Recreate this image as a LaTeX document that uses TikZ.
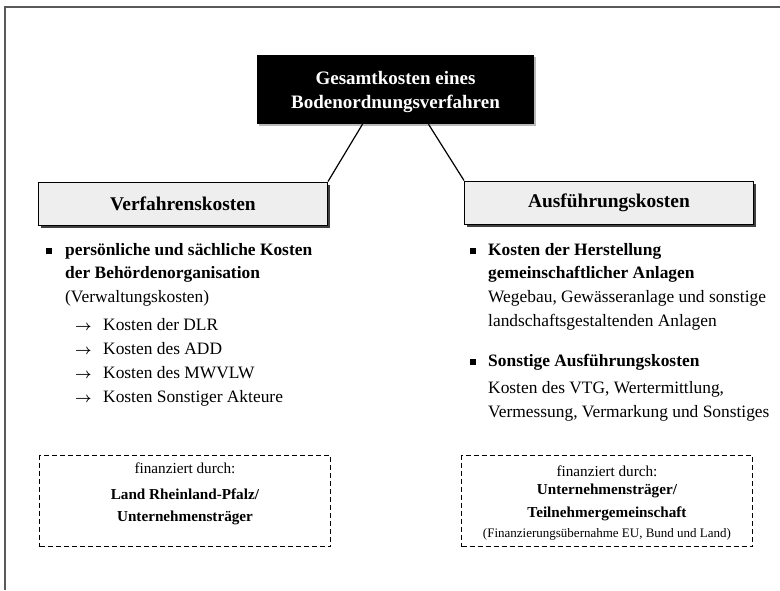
\documentclass[tikz,border=0pt]{standalone}
\usepackage{fontspec}
\setmainfont{Liberation Serif}
\usetikzlibrary{positioning,shadows}
\newcommand{\bodysize}{\fontsize{17.4}{23.5}\selectfont}
\newcommand{\finsize}{\fontsize{15.2}{22}\selectfont}

\begin{document}
\begin{tikzpicture}[x=1pt,y=-1pt,
  titlebox/.style={fill=black,text=white,align=center,
                   font=\bfseries\fontsize{19}{24}\selectfont,
                   minimum width=277pt,minimum height=69pt,
                   drop shadow={shadow xshift=2pt,shadow yshift=-2pt,fill=gray!55,opacity=1}},
  headbox/.style={draw,line width=1pt,fill=gray!13,
                  font=\bfseries\fontsize{19.4}{24}\selectfont,
                  minimum width=289pt,minimum height=43pt,
                  drop shadow={shadow xshift=2.5pt,shadow yshift=-2.5pt,fill=black!75,opacity=1}},
  finbox/.style={draw,line width=1pt,dash pattern=on 5pt off 3pt,
                 minimum width=291pt,minimum height=91pt},
  fintext/.style={align=center,font=\finsize,inner sep=0pt},
  bodytext/.style={align=left,font=\bodysize,inner sep=0pt},
  square/.style={fill=black,minimum size=6.5pt,inner sep=0pt},
  arrowmark/.style={font=\boldmath\fontsize{15}{15}\selectfont,inner sep=0pt},
  link/.style={line width=1.2pt},
  frame/.style={line width=1.5pt,gray!70!black}]

  \useasboundingbox (0,0) rectangle (780,590);

  % outer frame, only top and left edge
  \draw[frame] (5,590) -- (5,7) -- (780,7);

  % top box
  \node[titlebox] (gesamt) at (395.5,89.5)
    {\rule{0pt}{19pt}Gesamtkosten eines\\Bodenordnungsverfahren};

  % the two cost groups
  \node[headbox] (verfahren) at (183,203.5) {Verfahrenskosten};
  \node[headbox] (ausfuehrung) at (609,202.5) {Ausführungskosten};

  \draw[link] ([xshift=-33pt]gesamt.south) -- (verfahren.north east);
  \draw[link] ([xshift=33pt]gesamt.south) -- (ausfuehrung.north west);

  % left column (base = baseline of the last line)
  \node[square] (sqL) at (49,251) {};
  \node[bodytext,anchor=base west] (persKosten) at (65,302)
    {\textbf{persönliche und sächliche Kosten}\\
     \textbf{der Behördenorganisation}\\
     (Verwaltungskosten)};
  \foreach \txt [count=\i] in {Kosten der DLR,Kosten des ADD,Kosten des MWVLW,Kosten Sonstiger Akteure}{
    \node[arrowmark,anchor=base] (pfeil\i) at (83.5,306+24*\i) {$\rightarrow$};
    \node[bodytext,anchor=base west] (akteur\i) at (103,306+24*\i) {\txt};
  }

  % right column
  \node[square] (sqR1) at (473,251) {};
  \node[bodytext,anchor=base west] (herstellung) at (488,278.5)
    {\textbf{Kosten der Herstellung}\\
     \textbf{gemeinschaftlicher Anlagen}};
  \node[bodytext,anchor=base west] (wegebau) at (488,326)
    {Wegebau, Gewässeranlage und sonstige\\
     landschaftsgestaltenden Anlagen};
  \node[square] (sqR2) at (473,362) {};
  \node[bodytext,anchor=base west] (sonstige) at (488,366)
    {\textbf{Sonstige Ausführungskosten}};
  \node[bodytext,anchor=base west] (vtg) at (488,417)
    {Kosten des VTG, Wertermittlung,\\
     Vermessung, Vermarkung und Sonstiges};

  % financing boxes
  \node[finbox] (finL) at (185,501) {};
  \node[fintext,below=7.5pt of finL.north] (finLtext)
    {finanziert durch:\\[4pt]
     \textbf{Land Rheinland-Pfalz/}\\
     \textbf{Unternehmensträger}};

  \node[finbox] (finR) at (607,501) {};
  \node[fintext,below=10.5pt of finR.north] (finRtext)
    {finanziert durch:\\[-4pt]
     \textbf{Unternehmensträger/}\\[1pt]
     \textbf{Teilnehmergemeinschaft}\\[-2pt]
     {\fontsize{13}{16}\selectfont(Finanzierungsübernahme EU, Bund und Land)}};

\end{tikzpicture}
\end{document}
